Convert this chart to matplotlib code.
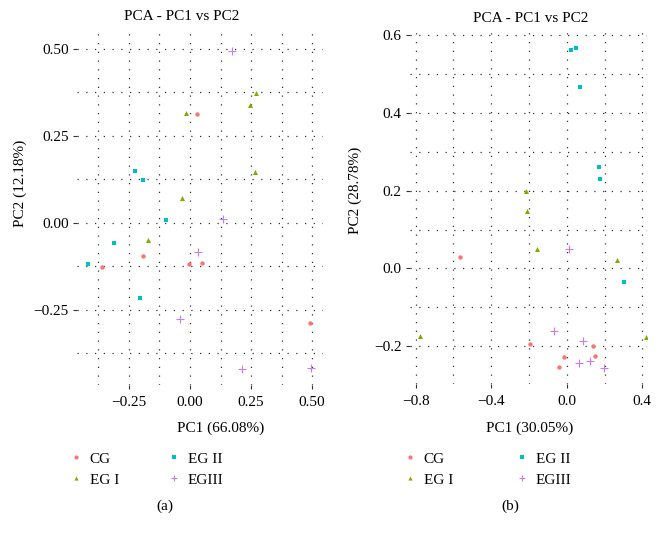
import matplotlib
matplotlib.use("Agg")
import matplotlib.pyplot as plt
from matplotlib.ticker import MultipleLocator, FuncFormatter
from matplotlib.lines import Line2D

plt.rcParams['font.family'] = ['Liberation Serif', 'DejaVu Serif']
plt.rcParams['font.size'] = 11

groups = ['CG', 'EG I', 'EG II', 'EGIII']
colors = ['#F8766D', '#7CAE00', '#00BFC4', '#C77CFF']
markers = ['o', '^', 's', '+']
sizes = [10, 13, 9, 28]

# panel (a)
a_cg_x = [0.027, -0.194, -0.361, -0.005, 0.050, 0.490]
a_cg_y = [0.313, -0.094, -0.128, -0.119, -0.116, -0.289]
a_eg1_x = [0.272, 0.245, -0.015, 0.265, -0.034, -0.173]
a_eg1_y = [0.373, 0.339, 0.317, 0.145, 0.073, -0.049]
a_eg2_x = [-0.224, -0.191, -0.098, -0.310, -0.418, -0.206]
a_eg2_y = [0.150, 0.124, 0.009, -0.058, -0.119, -0.215]
a_eg3_x = [0.171, 0.134, 0.031, -0.042, 0.214, 0.497]
a_eg3_y = [0.494, 0.011, -0.084, -0.275, -0.421, -0.416]

# panel (b)
b_cg_x = [-0.567, -0.194, 0.141, -0.012, 0.150, -0.042]
b_cg_y = [0.029, -0.196, -0.200, -0.229, -0.227, -0.255]
b_eg1_x = [-0.218, -0.211, -0.160, 0.264, -0.777, 0.421]
b_eg1_y = [0.199, 0.148, 0.051, 0.021, -0.175, -0.178]
b_eg2_x = [0.020, 0.048, 0.069, 0.171, 0.178, 0.303]
b_eg2_y = [0.562, 0.568, 0.467, 0.261, 0.230, -0.034]
b_eg3_x = [0.012, -0.070, 0.086, 0.067, 0.123, 0.196]
b_eg3_y = [0.049, -0.161, -0.186, -0.243, -0.239, -0.257]

a_x = [a_cg_x, a_eg1_x, a_eg2_x, a_eg3_x]
a_y = [a_cg_y, a_eg1_y, a_eg2_y, a_eg3_y]
b_x = [b_cg_x, b_eg1_x, b_eg2_x, b_eg3_x]
b_y = [b_cg_y, b_eg1_y, b_eg2_y, b_eg3_y]

W, H = 663, 538
fig = plt.figure(figsize=(W / 100, H / 100), dpi=100)


def px_axes(left, top, right, bottom):
    return fig.add_axes([left / W, 1 - bottom / H, (right - left) / W, (bottom - top) / H])


def fmt(dec):
    return FuncFormatter(lambda v, p: f"{v:.{dec}f}".replace('-', '\u2212'))


def draw_panel(ax, xs, ys, xlim, ylim, xmaj, ymaj, dec_x, dec_y):
    for x, y, c, m, s in zip(xs, ys, colors, markers, sizes):
        if m == '+':
            ax.scatter(x, y, c=c, marker=m, s=s, linewidths=0.8, zorder=3)
        else:
            ax.scatter(x, y, c=c, marker=m, s=s, linewidths=0, zorder=3)
    ax.set_xlim(*xlim)
    ax.set_ylim(*ylim)
    ax.xaxis.set_major_locator(MultipleLocator(xmaj))
    ax.xaxis.set_minor_locator(MultipleLocator(xmaj / 2))
    ax.yaxis.set_major_locator(MultipleLocator(ymaj))
    ax.yaxis.set_minor_locator(MultipleLocator(ymaj / 2))
    ax.xaxis.set_major_formatter(fmt(dec_x))
    ax.yaxis.set_major_formatter(fmt(dec_y))
    for sp in ax.spines.values():
        sp.set_visible(False)
    ax.grid(True, which='both', color='#333333', linestyle=(0, (1, 6)), linewidth=0.9)
    ax.set_axisbelow(True)
    ax.tick_params(which='major', length=3, width=0.8, color='#333333', labelsize=11)
    ax.tick_params(axis='x', which='major', pad=5)
    ax.tick_params(axis='y', which='major', pad=3)
    ax.tick_params(which='minor', length=0)


ax1 = px_axes(77, 33, 323, 385)
draw_panel(ax1, a_x, a_y, (-0.463, 0.545), (-0.466, 0.546), 0.25, 0.25, 2, 2)
ax2 = px_axes(410, 32, 647, 384)
draw_panel(ax2, b_x, b_y, (-0.83, 0.425), (-0.298, 0.609), 0.4, 0.2, 1, 1)

# texts placed in pixel coords
def ftext(x, y, s, **kw):
    fig.text(x / W, 1 - y / H, s, ha='center', va='center', fontsize=11, **kw)

ftext(182, 16, 'PCA - PC1 vs PC2')
ftext(531, 19, 'PCA - PC1 vs PC2')
ftext(20, 183, 'PC2 (12.18%)', rotation=90)
ftext(355, 190, 'PC2 (28.78%)', rotation=90)
ftext(221, 428, 'PC1 (66.08%)')
ftext(530, 428, 'PC1 (30.05%)')
ftext(165, 506, '(a)')
ftext(510, 506, '(b)')

handles = []
for c, m in zip(colors, markers):
    if m == '+':
        handles.append(Line2D([], [], linestyle='none', marker=m, color=c, markersize=5, markeredgewidth=0.8))
    else:
        handles.append(Line2D([], [], linestyle='none', marker=m, color=c, markersize=3, markeredgewidth=0))

for ax, lx, colsp in [(ax1, 70, 3.2), (ax2, 404, 4.1)]:
    ax.legend(handles, groups, ncol=2, loc='upper left',
              bbox_to_anchor=(lx / W, 1 - 452 / H), bbox_transform=fig.transFigure,
              frameon=False, handlelength=0.8, handletextpad=0.5, columnspacing=colsp,
              labelspacing=0.48, borderpad=0, borderaxespad=0, fontsize=11)

fig.savefig('out.png', dpi=100)
